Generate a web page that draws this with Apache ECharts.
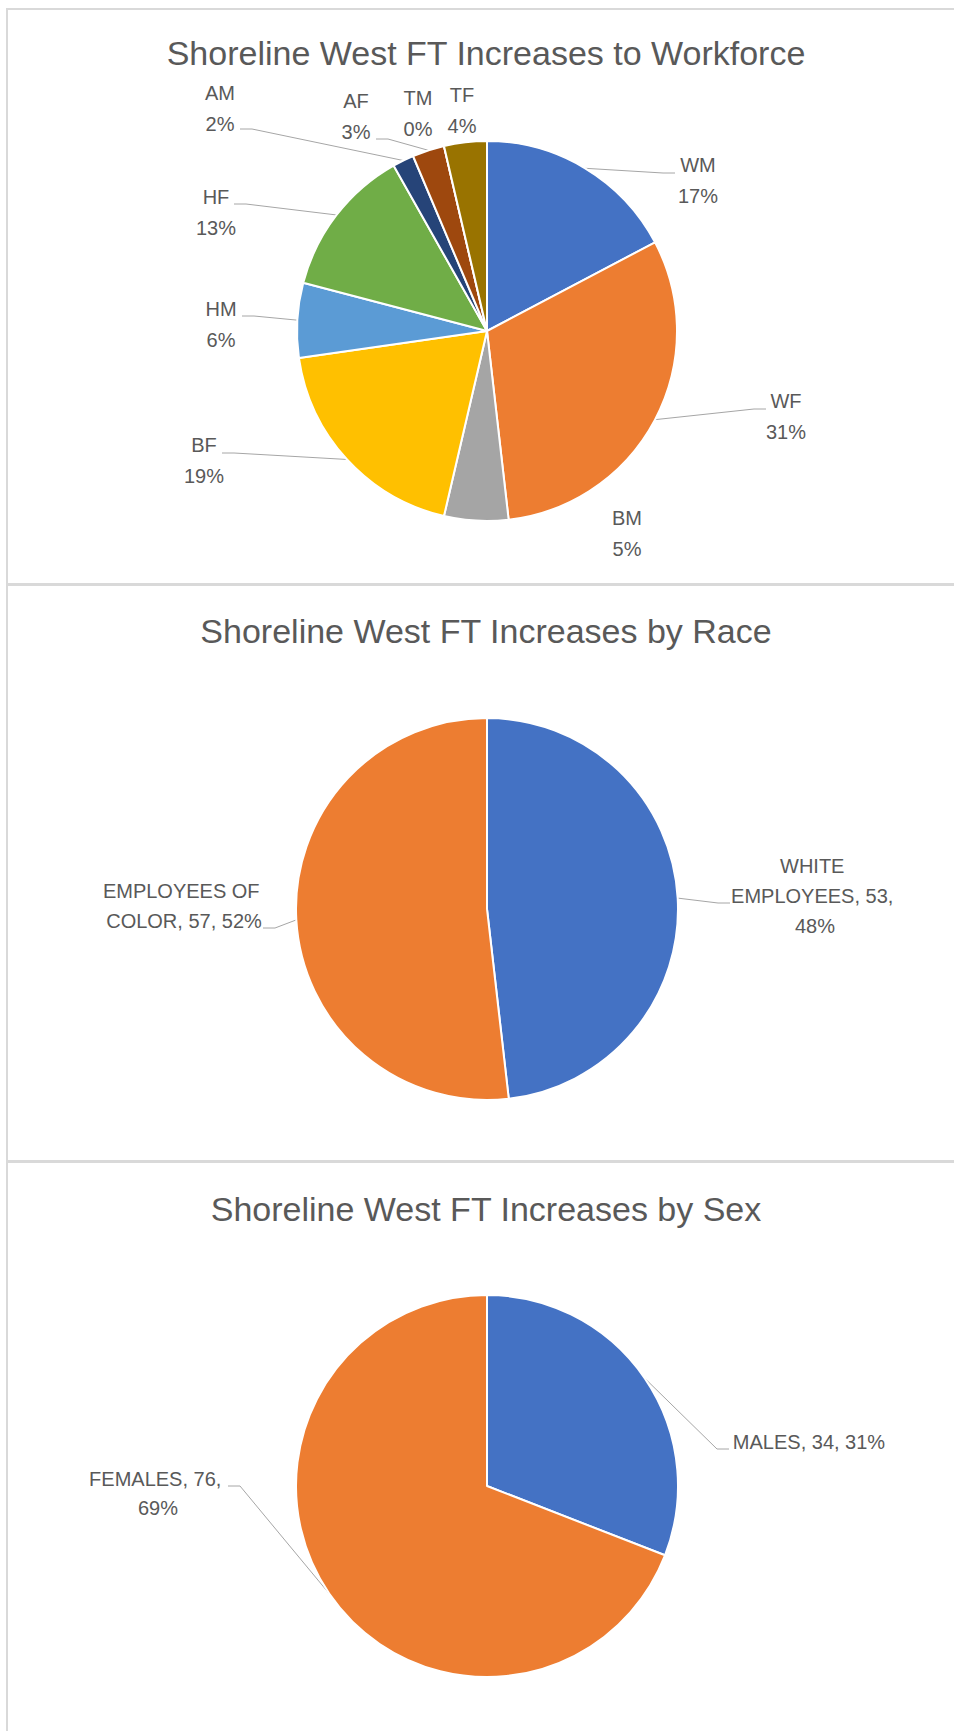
<!DOCTYPE html>
<html>
<head>
<meta charset="utf-8">
<title>Shoreline West FT Increases</title>
<script src="https://cdn.jsdelivr.net/npm/echarts@6/dist/echarts.min.js"></script>
<style>
  html, body { margin: 0; padding: 0; background: #fff; }
  #chart { width: 954px; height: 1731px; }
</style>
</head>
<body>
<div id="chart"></div>
<script>
// Chart data
const chartTitles = [
  "Shoreline West FT Increases to Workforce",
  "Shoreline West FT Increases by Race",
  "Shoreline West FT Increases by Sex",
];
const workforceNames = ["WM", "WF", "BM", "BF", "HM", "HF", "AM", "AF", "TM", "TF"];
const workforceValues = [19, 34, 6, 21, 7, 14, 2, 3, 0, 4];
const raceNames = ["WHITE EMPLOYEES", "EMPLOYEES OF COLOR"];
const raceValues = [53, 57];
const sexNames = ["MALES", "FEMALES"];
const sexValues = [34, 76];

// Styles
const workforceColors = ["#4472c4", "#ed7d31", "#a5a5a5", "#ffc000", "#5b9bd5", "#70ad47", "#264478", "#9e480e", "#636363", "#997300"];
const pairColors = ["#4472c4", "#ed7d31"];
const textColor = "#595959";
const borderColor = "#d9d9d9";
const fontFamily = "'Liberation Sans', Arial, sans-serif";

// Layout (px)
const pieCenters = [[487, 331], [487, 909], [487, 1486]];
const pieRadius = [190, 191, 191];
const titleY = [53, 631, 1209];
// label centre x, y and optional leader line end x, y
const workforceLabelPos = [
  [698, 180, 675, 173],
  [786, 416, 766, 409],
  [627, 533],
  [204, 460, 222, 453],
  [221, 324, 242, 316],
  [216, 212, 234, 204],
  [220, 108, 240, 129],
  [356, 116, 376, 139],
  [418, 113],
  [462, 110],
];
const raceLabelPos = [
  [815, 896, 730, 903],
  [184, 906, 263, 928],
];
const sexLabelPos = [
  [809, 1442, 729, 1449],
  [158, 1493, 228, 1486],
];

function makeLabelLayout(positions) {
  return function (params) {
    const pos = positions[params.dataIndex];
    const result = { x: pos[0], y: pos[1], align: "center", verticalAlign: "middle" };
    if (pos.length > 2 && params.labelLinePoints) {
      const start = params.labelLinePoints[0];
      const end = [pos[2], pos[3]];
      const elbow = [end[0] + (end[0] > start[0] ? -12 : 12), end[1]];
      result.labelLinePoints = [start, elbow, end];
    }
    return result;
  };
}

function buildData(names, values, colors, positions) {
  return names.map((name, i) => ({
    name: name,
    value: values[i],
    itemStyle: { color: colors[i] },
    labelLine: { show: positions[i].length > 2 },
  }));
}

function pieSeries(index, data, labelStyle, positions) {
  return {
    type: "pie",
    center: pieCenters[index],
    radius: pieRadius[index],
    startAngle: 90,
    clockwise: true,
    avoidLabelOverlap: false,
    animation: false,
    silent: true,
    data: data,
    itemStyle: { borderColor: "#ffffff", borderWidth: 2 },
    label: Object.assign({
      show: true,
      position: "outside",
      color: textColor,
      fontFamily: fontFamily,
      fontSize: 20,
    }, labelStyle),
    labelLine: {
      show: true,
      length: 10,
      length2: 10,
      lineStyle: { color: "#a6a6a6", width: 1 },
    },
    labelLayout: makeLabelLayout(positions),
  };
}

const countFormatter = (p) => `${p.name}, ${p.value}, ${Math.round(p.percent)}%`;

const graphics = [
  { type: "line", shape: { x1: 7, y1: 8, x2: 7, y2: 1731 }, style: { stroke: borderColor, lineWidth: 2 } },
  { type: "line", shape: { x1: 6, y1: 9, x2: 954, y2: 9 }, style: { stroke: borderColor, lineWidth: 2 } },
  { type: "line", shape: { x1: 6, y1: 584.5, x2: 954, y2: 584.5 }, style: { stroke: borderColor, lineWidth: 3 } },
  { type: "line", shape: { x1: 6, y1: 1161.5, x2: 954, y2: 1161.5 }, style: { stroke: borderColor, lineWidth: 3 } },
];
chartTitles.forEach((text, i) => {
  graphics.push({
    type: "text",
    x: 486,
    y: titleY[i],
    style: {
      text: text,
      fill: textColor,
      fontFamily: fontFamily,
      fontSize: 34,
      align: "center",
      verticalAlign: "middle",
    },
  });
});

const chart = echarts.init(document.getElementById("chart"), null, { renderer: "svg" });

chart.setOption({
  backgroundColor: "#ffffff",
  animation: false,
  graphic: graphics,
  series: [
    pieSeries(0, buildData(workforceNames, workforceValues, workforceColors, workforceLabelPos), {
      lineHeight: 31,
      formatter: (p) => `${p.name}\n${Math.round(p.percent)}%`,
    }, workforceLabelPos),
    pieSeries(1, buildData(raceNames, raceValues, pairColors, raceLabelPos), {
      lineHeight: 30,
      width: 170,
      overflow: "break",
      formatter: countFormatter,
    }, raceLabelPos),
    pieSeries(2, buildData(sexNames, sexValues, pairColors, sexLabelPos), {
      lineHeight: 29,
      width: 170,
      overflow: "break",
      formatter: countFormatter,
    }, sexLabelPos),
  ],
});
</script>
</body>
</html>
